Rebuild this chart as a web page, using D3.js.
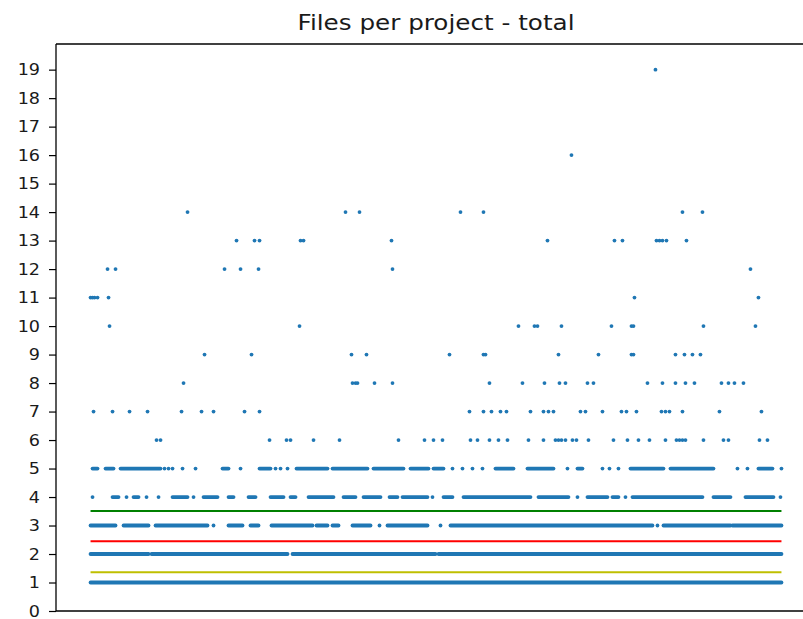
<!DOCTYPE html>
<html>
<head>
<meta charset="utf-8">
<script src="https://cdn.jsdelivr.net/npm/d3@7"></script>
<style>
  html, body { margin: 0; padding: 0; background: #fff; }
  svg { display: block; }
</style>
</head>
<body>
<div id="chart"></div>
<script>
// ---------- DATA (x = project index, y = number of files) ----------
const titleText = "Files per project - total";
const nProjects = 691;
const yTickLabels = [0,1,2,3,4,5,6,7,8,9,10,11,12,13,14,15,16,17,18,19];

// sparse levels: individual project indices
const level19 = [565];
const level16 = [481];
const level14 = [97, 255, 269, 370, 393, 592, 612];
const level13 = [146, 164, 169, 210, 213, 301, 457, 524, 532, 566, 569, 572, 576, 596];
const level12 = [17, 25, 134, 150, 168, 302, 660];
const level11 = [0, 2, 4, 7, 18, 544, 668];
const level10 = [19, 209, 428, 444, 447, 471, 521, 541, 543, 613, 665];
const level9  = [114, 161, 261, 276, 359, 393, 395, 468, 508, 541, 543, 585, 594, 602, 610];
const level8  = [93, 262, 265, 267, 284, 302, 399, 432, 454, 469, 475, 497, 503, 557, 572, 585, 595, 604, 631, 638, 644, 653];
const level7  = [3, 22, 39, 57, 91, 111, 123, 154, 169, 379, 393, 401, 410, 416, 440, 453, 458, 463, 490, 495, 512, 531, 536, 546, 571, 575, 579, 592, 629, 671];
const level6  = [66, 70, 179, 196, 200, 223, 249, 308, 334, 343, 352, 380, 387, 399, 408, 417, 438, 453, 465, 468, 471, 475, 482, 486, 498, 523, 537, 548, 559, 575, 586, 589, 592, 595, 613, 633, 638, 669, 677];

// dense levels: runs of consecutive projects [first, last] plus isolated projects
const level5Runs = [[2,7],[15,23],[30,70],[132,138],[169,180],[206,237],[242,277],[283,313],[320,338],[343,353],[405,423],[437,463],[487,492],[540,573],[580,623],[668,682]];
const level5 = [74, 78, 82, 92, 105, 150, 185, 190, 197, 362, 372, 382, 392, 477, 512, 519, 528, 647, 657, 691];
const level4Runs = [[22,28],[43,48],[82,97],[113,127],[138,143],[158,165],[180,193],[200,205],[218,243],[253,265],[273,290],[299,307],[312,337],[353,362],[373,440],[448,478],[497,517],[522,528],[542,612],[623,640],[655,683]];
const level4 = [2, 36, 56, 68, 103, 342, 487, 535, 690];
const level3Runs = [[0,25],[33,58],[65,117],[138,152],[160,168],[181,222],[226,237],[242,248],[262,280],[297,337],[360,562],[573,640],[642,691]];
const level3 = [123, 289, 350, 567];
const level2Runs = [[0,58],[61,197],[202,345],[348,691]];
const level1Runs = [[0,691]];

// reference lines
const refValues = [1.36, 2.45, 3.51];
const refColors = ["#bfbf00", "#ff0000", "#008000"];

// ---------- BUILD ----------
const W = 803, H = 619;
const mLeft = 56, mRight = 816, mTop = 44, mBottom = 611;

const svg = d3.select("#chart").append("svg").attr("width", W).attr("height", H);

const x = d3.scaleLinear().domain([-0.05 * nProjects, 1.05 * nProjects]).range([mLeft, mRight]);
const y = d3.scaleLinear().domain([0, 19.9]).range([mBottom, mTop]);

const dotColor = "#1f77b4";
const r = 1.9;

const points = [];
[[level19,19],[level16,16],[level14,14],[level13,13],[level12,12],[level11,11],[level10,10],
 [level9,9],[level8,8],[level7,7],[level6,6],[level5,5],[level4,4],[level3,3]]
  .forEach(([arr, v]) => arr.forEach(i => points.push({i, v})));
const runs = [];
[[level5Runs,5],[level4Runs,4],[level3Runs,3],[level2Runs,2],[level1Runs,1]]
  .forEach(([arr, v]) => arr.forEach(([a, b]) => runs.push({a, b, v})));

const plot = svg.append("g");

plot.selectAll("line.run").data(runs).join("line")
  .attr("class", "run")
  .attr("x1", d => x(d.a)).attr("x2", d => x(d.b))
  .attr("y1", d => y(d.v)).attr("y2", d => y(d.v))
  .attr("stroke", dotColor).attr("stroke-width", 2 * r).attr("stroke-linecap", "round");

plot.selectAll("circle").data(points).join("circle")
  .attr("cx", d => x(d.i)).attr("cy", d => y(d.v)).attr("r", r)
  .attr("fill", dotColor);

plot.selectAll("line.ref").data(refValues).join("line")
  .attr("class", "ref")
  .attr("x1", x(0)).attr("x2", x(nProjects))
  .attr("y1", d => y(d)).attr("y2", d => y(d))
  .attr("stroke", (d, i) => refColors[i]).attr("stroke-width", 2);

// axes
const yAxis = d3.axisLeft(y).tickValues(yTickLabels).tickSize(7).tickFormat(d3.format("d"));
const gy = svg.append("g").attr("transform", `translate(${mLeft},0)`).call(yAxis);
gy.select(".domain").remove();
gy.selectAll(".tick line").attr("stroke", "#000").attr("stroke-width", 1.2);
gy.selectAll(".tick text")
  .attr("x", 0)
  .attr("transform", "translate(-16,0) scale(1.1,1)")
  .attr("fill", "#1a1a1a")
  .style("font-family", "'DejaVu Sans', sans-serif")
  .style("font-size", "16px");

// spines
const sp = svg.append("g").attr("stroke", "#000").attr("stroke-width", 1.3).attr("fill", "none");
sp.append("line").attr("x1", mLeft).attr("x2", mLeft).attr("y1", mTop).attr("y2", mBottom);
sp.append("line").attr("x1", mLeft).attr("x2", mRight).attr("y1", mTop).attr("y2", mTop);
sp.append("line").attr("x1", mLeft).attr("x2", mRight).attr("y1", mBottom).attr("y2", mBottom);
sp.append("line").attr("x1", mRight).attr("x2", mRight).attr("y1", mTop).attr("y2", mBottom);

// title
svg.append("text")
  .attr("transform", `translate(${(mLeft + mRight) / 2},30) scale(1.19,1)`)
  .attr("text-anchor", "middle")
  .attr("fill", "#1a1a1a")
  .style("font-family", "'DejaVu Sans', sans-serif")
  .style("font-size", "20.7px")
  .text(titleText);
</script>
</body>
</html>
